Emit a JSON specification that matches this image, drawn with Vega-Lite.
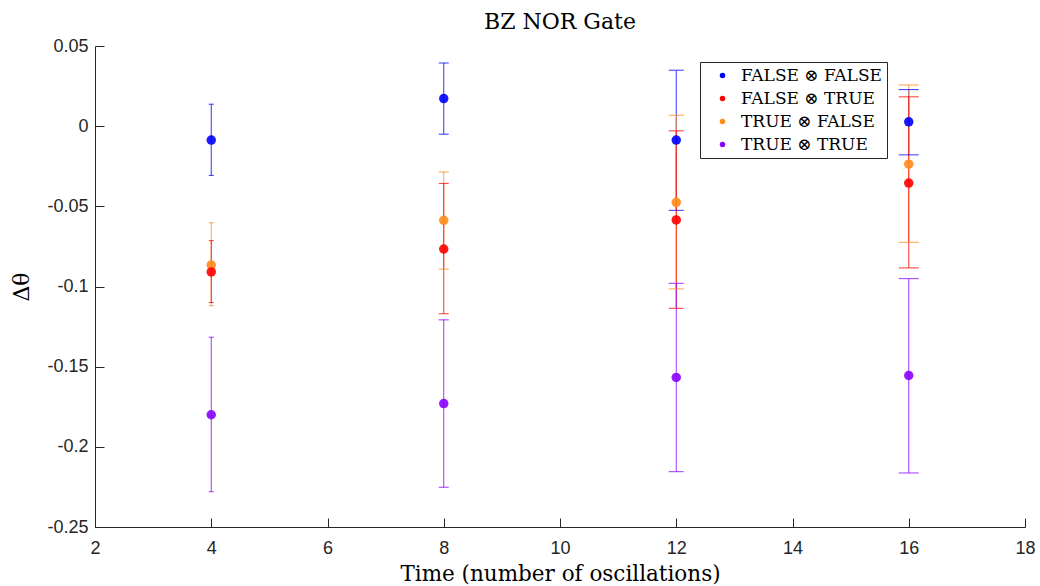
{
  "$schema": "https://vega.github.io/schema/vega-lite/v6.json",
  "width": 930,
  "height": 481,
  "autosize": {"type": "none"},
  "padding": {"left": 95, "top": 46, "right": 15, "bottom": 59},
  "background": "white",
  "title": {"text": "BZ NOR Gate", "font": "DejaVu Serif", "fontSize": 22, "fontWeight": "normal", "color": "#000000", "offset": 3},
  "data": {
    "values": [
      {"t": 4, "s": "FALSE ⊗ FALSE", "v": -0.0087, "hi": 0.0137, "lo": -0.0307},
      {"t": 4, "s": "TRUE ⊗ FALSE", "v": -0.0866, "hi": -0.0602, "lo": -0.112},
      {"t": 4, "s": "FALSE ⊗ TRUE", "v": -0.0909, "hi": -0.0714, "lo": -0.110},
      {"t": 4, "s": "TRUE ⊗ TRUE", "v": -0.180, "hi": -0.1316, "lo": -0.228},
      {"t": 8, "s": "FALSE ⊗ FALSE", "v": 0.0172, "hi": 0.0394, "lo": -0.005},
      {"t": 8, "s": "TRUE ⊗ FALSE", "v": -0.0587, "hi": -0.0286, "lo": -0.0892},
      {"t": 8, "s": "FALSE ⊗ TRUE", "v": -0.0766, "hi": -0.0357, "lo": -0.117},
      {"t": 8, "s": "TRUE ⊗ TRUE", "v": -0.173, "hi": -0.1208, "lo": -0.2252},
      {"t": 12, "s": "FALSE ⊗ FALSE", "v": -0.0087, "hi": 0.0349, "lo": -0.0525},
      {"t": 12, "s": "TRUE ⊗ FALSE", "v": -0.0475, "hi": 0.0068, "lo": -0.1015},
      {"t": 12, "s": "FALSE ⊗ TRUE", "v": -0.0585, "hi": -0.0029, "lo": -0.1136},
      {"t": 12, "s": "TRUE ⊗ TRUE", "v": -0.1567, "hi": -0.098, "lo": -0.2155},
      {"t": 16, "s": "FALSE ⊗ FALSE", "v": 0.0027, "hi": 0.0228, "lo": -0.0179},
      {"t": 16, "s": "TRUE ⊗ FALSE", "v": -0.0237, "hi": 0.0257, "lo": -0.0724},
      {"t": 16, "s": "FALSE ⊗ TRUE", "v": -0.0355, "hi": 0.0183, "lo": -0.0884},
      {"t": 16, "s": "TRUE ⊗ TRUE", "v": -0.1555, "hi": -0.0951, "lo": -0.2163}
    ]
  },
  "encoding": {
    "x": {"field": "t", "type": "quantitative", "scale": {"domain": [2, 18], "nice": false, "zero": false},
      "axis": {"values": [2, 4, 6, 8, 10, 12, 14, 16, 18], "labelFlush": false, "labelOverlap": false, "title": "Time (number of oscillations)", "titleFont": "DejaVu Serif", "titleFontSize": 21.5, "titleFontWeight": "normal", "titleColor": "#000000", "titlePadding": 6, "labelPadding": 21}},
    "color": {"field": "s", "type": "nominal", "scale": {"domain": ["FALSE ⊗ FALSE", "FALSE ⊗ TRUE", "TRUE ⊗ FALSE", "TRUE ⊗ TRUE"], "range": ["#0000ff", "#ff0000", "#ff8c1a", "#8a00ff"]},
      "legend": {"title": null, "orient": "none", "legendX": 605, "legendY": 16, "labelFont": "DejaVu Serif", "labelFontSize": 17, "labelColor": "#000000", "symbolSize": 30, "symbolType": "circle", "symbolOpacity": 1, "symbolStrokeWidth": 0, "padding": 5, "symbolOffset": 9, "labelOffset": 10, "rowPadding": 5, "strokeColor": "#262626", "fillColor": "#ffffff", "cornerRadius": 0, "labelLimit": 300}}
  },
  "layer": [
    {
      "mark": {"type": "rule", "strokeWidth": 1, "opacity": 0.8},
      "encoding": {
        "y": {"field": "lo", "type": "quantitative", "scale": {"domain": [-0.25, 0.05], "nice": false, "zero": false},
          "axis": {"values": [-0.25, -0.2, -0.15, -0.1, -0.05, 0, 0.05], "labelFlush": false, "labelOverlap": false, "labelExpr": "toString(datum.value)", "title": "Δθ", "titleFont": "DejaVu Serif", "titleFontSize": 22, "titleFontWeight": "normal", "titleColor": "#000000", "titlePadding": 13, "labelPadding": 16}},
        "y2": {"field": "hi"}
      }
    },
    {
      "mark": {"type": "tick", "orient": "horizontal", "thickness": 1, "opacity": 0.8},
      "encoding": {
        "y": {"field": "lo", "type": "quantitative"},
        "size": {"field": "t", "type": "quantitative", "scale": {"domain": [0, 16], "range": [0, 20], "zero": true}, "legend": null}
      }
    },
    {
      "mark": {"type": "tick", "orient": "horizontal", "thickness": 1, "opacity": 0.8},
      "encoding": {
        "y": {"field": "hi", "type": "quantitative"},
        "size": {"field": "t", "type": "quantitative", "scale": {"domain": [0, 16], "range": [0, 20], "zero": true}, "legend": null}
      }
    },
    {
      "mark": {"type": "point", "filled": true, "shape": "circle", "size": 90, "opacity": 0.9},
      "encoding": {
        "y": {"field": "v", "type": "quantitative"}
      }
    }
  ],
  "config": {
    "view": {"stroke": null},
    "axis": {"grid": false, "domainColor": "#262626", "tickColor": "#262626", "labelColor": "#262626", "labelFont": "Liberation Sans", "labelFontSize": 18, "tickSize": -9, "domainWidth": 1, "tickWidth": 1}
  }
}
